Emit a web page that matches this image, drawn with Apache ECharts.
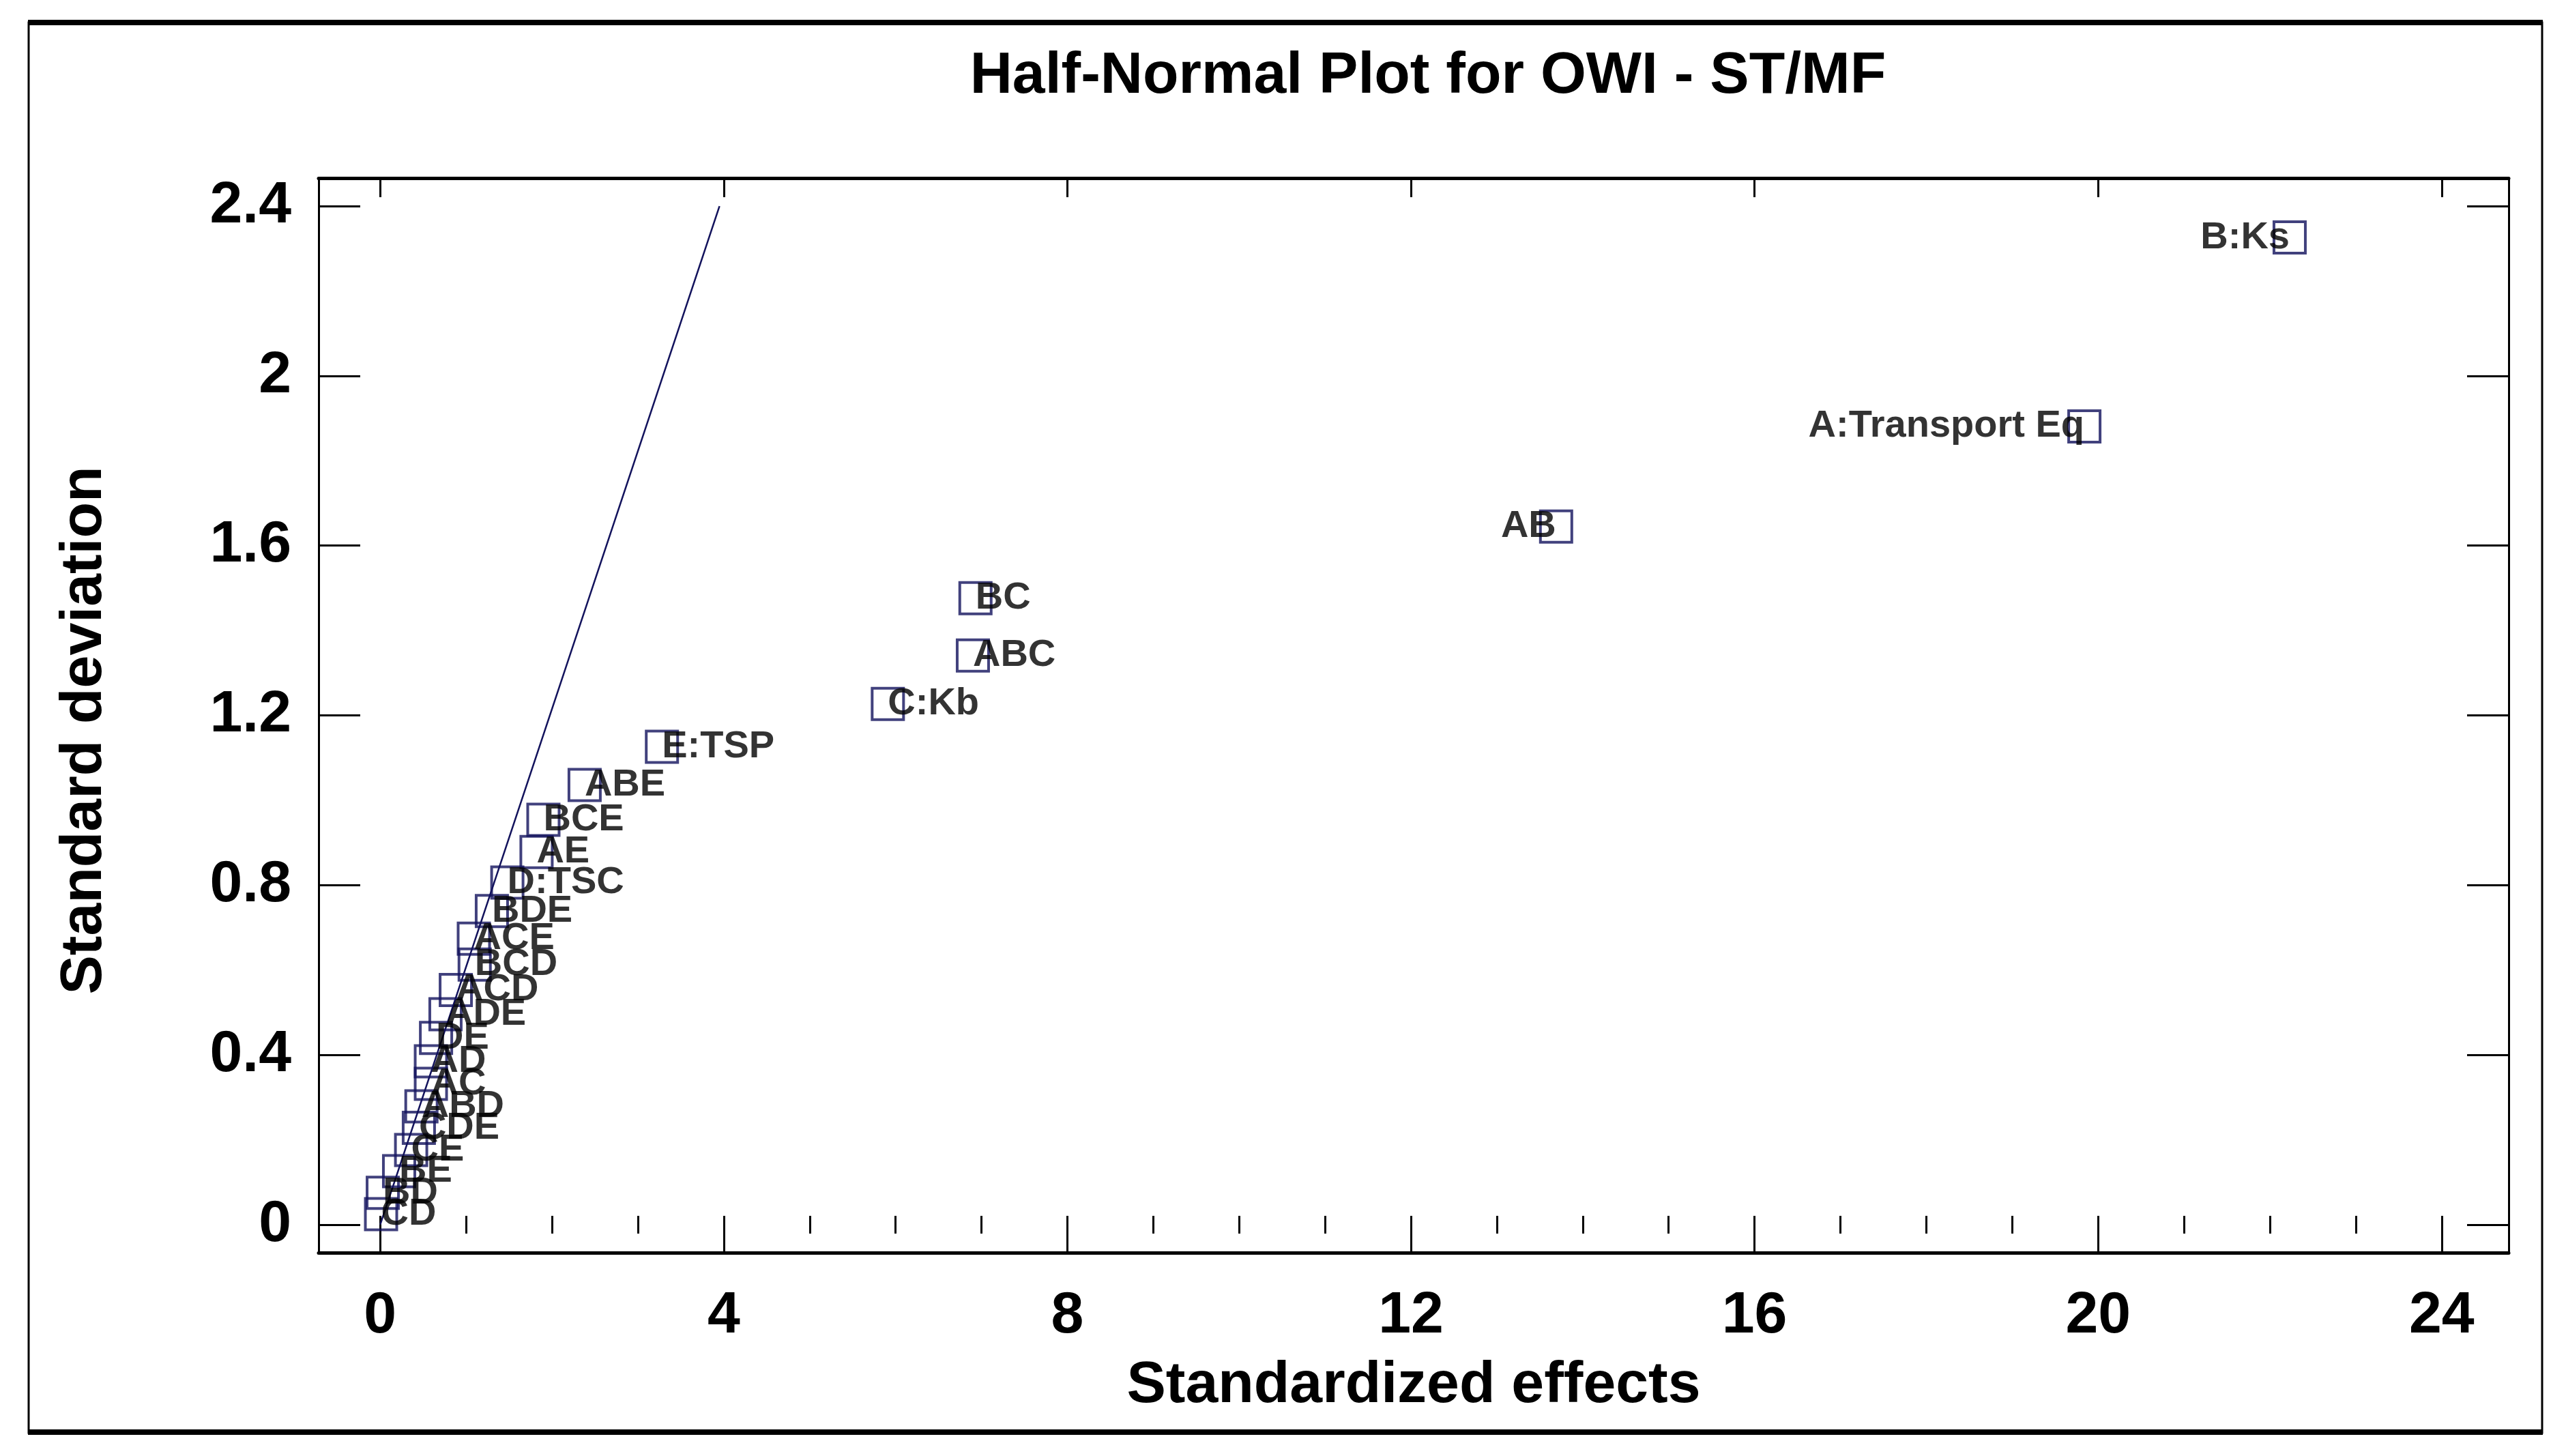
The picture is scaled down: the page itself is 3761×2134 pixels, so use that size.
<!DOCTYPE html>
<html>
<head>
<meta charset="utf-8">
<script src="https://cdn.jsdelivr.net/npm/echarts@6/dist/echarts.min.js"></script>
<style>
html,body{margin:0;padding:0;background:#fff;}
#chart{width:3761px;height:2134px;}
</style>
</head>
<body>
<div id="chart"></div>
<script>
// ---- data ----
const effectNames = ['B:Ks','A:Transport Eq','AB','BC','ABC','C:Kb','E:TSP','ABE','BCE','AE','D:TSC','BDE','ACE','BCD','ACD','ADE','DE','AD','AC','ABD','CDE','CE','BE','BD','CD'];
const standardizedEffects = [22.23, 19.84, 13.69, 6.93, 6.90, 5.91, 3.28, 2.38, 1.90, 1.82, 1.48, 1.30, 1.09, 1.10, 0.88, 0.76, 0.65, 0.59, 0.59, 0.48, 0.45, 0.36, 0.22, 0.03, 0.01];
const standardDeviation = [2.326, 1.881, 1.645, 1.476, 1.341, 1.227, 1.126, 1.036, 0.954, 0.878, 0.806, 0.739, 0.674, 0.613, 0.553, 0.496, 0.440, 0.385, 0.332, 0.279, 0.228, 0.176, 0.126, 0.075, 0.025];
const leftLabelled = ['B:Ks','A:Transport Eq','AB'];
const refLineX = [0, 3.95];
const refLineY = [0, 2.4];
const xTickLabels = [0, 4, 8, 12, 16, 20, 24];
const xMinorTicks = [0,1,2,3,4,5,6,7,8,9,10,11,12,13,14,15,16,17,18,19,20,21,22,23,24];
const yTickLabels = [0, 0.4, 0.8, 1.2, 1.6, 2, 2.4];

const X_MIN = -0.717, X_MAX = 24.78, Y_MIN = -0.066, Y_MAX = 2.466;
const FONT = "'Liberation Sans', Arial, sans-serif";
const NAVY = '#12125c';

const chart = echarts.init(document.getElementById('chart'), null, {renderer: 'canvas'});

const pts = effectNames.map((n, i) => {
  const item = {name: n, value: [standardizedEffects[i], standardDeviation[i]]};
  if (leftLabelled.includes(n)) item.label = {align: 'right'};
  return item;
});

function xAx(pos, ticks, len, opts) {
  return Object.assign({
    type: 'value', position: pos, min: X_MIN, max: X_MAX, gridIndex: 0,
    axisLine: {show: false},
    axisTick: {show: true, inside: true, length: len, customValues: ticks, lineStyle: {color: '#000', width: 3}},
    axisLabel: {show: false},
    splitLine: {show: false}
  }, opts || {});
}

const option = {
  backgroundColor: '#fff',
  animation: false,
  title: {
    text: 'Half-Normal Plot for OWI - ST/MF',
    left: 2088, top: 64, textAlign: 'center',
    textStyle: {fontFamily: FONT, fontSize: 86, fontWeight: 'bold', color: '#000'}
  },
  grid: {left: 467, right: 84, top: 261, bottom: 298, containLabel: false},
  graphic: [
    {type: 'rect', shape: {x: 42, y: 33, width: 3684, height: 2067}, style: {fill: 'none', stroke: '#000', lineWidth: 3}, silent: true},
    {type: 'line', shape: {x1: 41, y1: 33, x2: 3727, y2: 33}, style: {stroke: '#000', lineWidth: 8}, silent: true},
    {type: 'line', shape: {x1: 41, y1: 2099, x2: 3727, y2: 2099}, style: {stroke: '#000', lineWidth: 8}, silent: true}
  ],
  xAxis: [
    xAx('bottom', xTickLabels, 28, {
      axisLine: {show: true, onZero: false, lineStyle: {color: '#000', width: 5}},
      axisLabel: {show: true, customValues: xTickLabels, margin: 50, fontFamily: FONT, fontSize: 86, fontWeight: 'bold', color: '#000'},
      name: 'Standardized effects', nameLocation: 'middle', nameGap: 152,
      nameTextStyle: {fontFamily: FONT, fontSize: 86, fontWeight: 'bold', color: '#000'}
    }),
    xAx('bottom', xMinorTicks, 13),
    xAx('top', xTickLabels, 28, {axisLine: {show: true, onZero: false, lineStyle: {color: '#000', width: 5}}}),
    xAx('top', xMinorTicks, 13)
  ],
  yAxis: [
    {
      type: 'value', position: 'left', min: Y_MIN, max: Y_MAX,
      axisLine: {show: true, onZero: false, lineStyle: {color: '#000', width: 3}},
      axisTick: {show: true, inside: true, length: 61, customValues: yTickLabels, lineStyle: {color: '#000', width: 3}},
      axisLabel: {show: true, customValues: yTickLabels, margin: 40, fontFamily: FONT, fontSize: 86, fontWeight: 'bold', color: '#000'},
      splitLine: {show: false},
      name: 'Standard deviation', nameLocation: 'middle', nameGap: 300, nameRotate: 90,
      nameTextStyle: {fontFamily: FONT, fontSize: 86, fontWeight: 'bold', color: '#000', padding: [0, 44, 0, 0]}
    },
    {
      type: 'value', position: 'right', min: Y_MIN, max: Y_MAX,
      axisLine: {show: true, onZero: false, lineStyle: {color: '#000', width: 3}},
      axisTick: {show: true, inside: true, length: 61, customValues: yTickLabels, lineStyle: {color: '#000', width: 3}},
      axisLabel: {show: false},
      splitLine: {show: false}
    }
  ],
  series: [
    {
      type: 'line', xAxisIndex: 0, yAxisIndex: 0,
      data: refLineX.map((x, i) => [x, refLineY[i]]),
      symbol: 'none', lineStyle: {color: NAVY, width: 2.5}, z: 1, silent: true
    },
    {
      type: 'scatter', xAxisIndex: 0, yAxisIndex: 0, clip: false,
      data: pts,
      symbol: 'rect', symbolSize: 46,
      itemStyle: {color: 'rgba(255,255,255,0)', borderColor: NAVY, borderWidth: 4},
      label: {
        show: true, position: 'inside', align: 'left', verticalAlign: 'middle',
        formatter: p => p.name,
        fontFamily: FONT, fontSize: 56, fontWeight: 'bold', color: '#000',
        textBorderWidth: 0
      },
      labelLayout: {hideOverlap: false},
      z: 3
    }
  ]
};
chart.setOption(option);
</script>
</body>
</html>
